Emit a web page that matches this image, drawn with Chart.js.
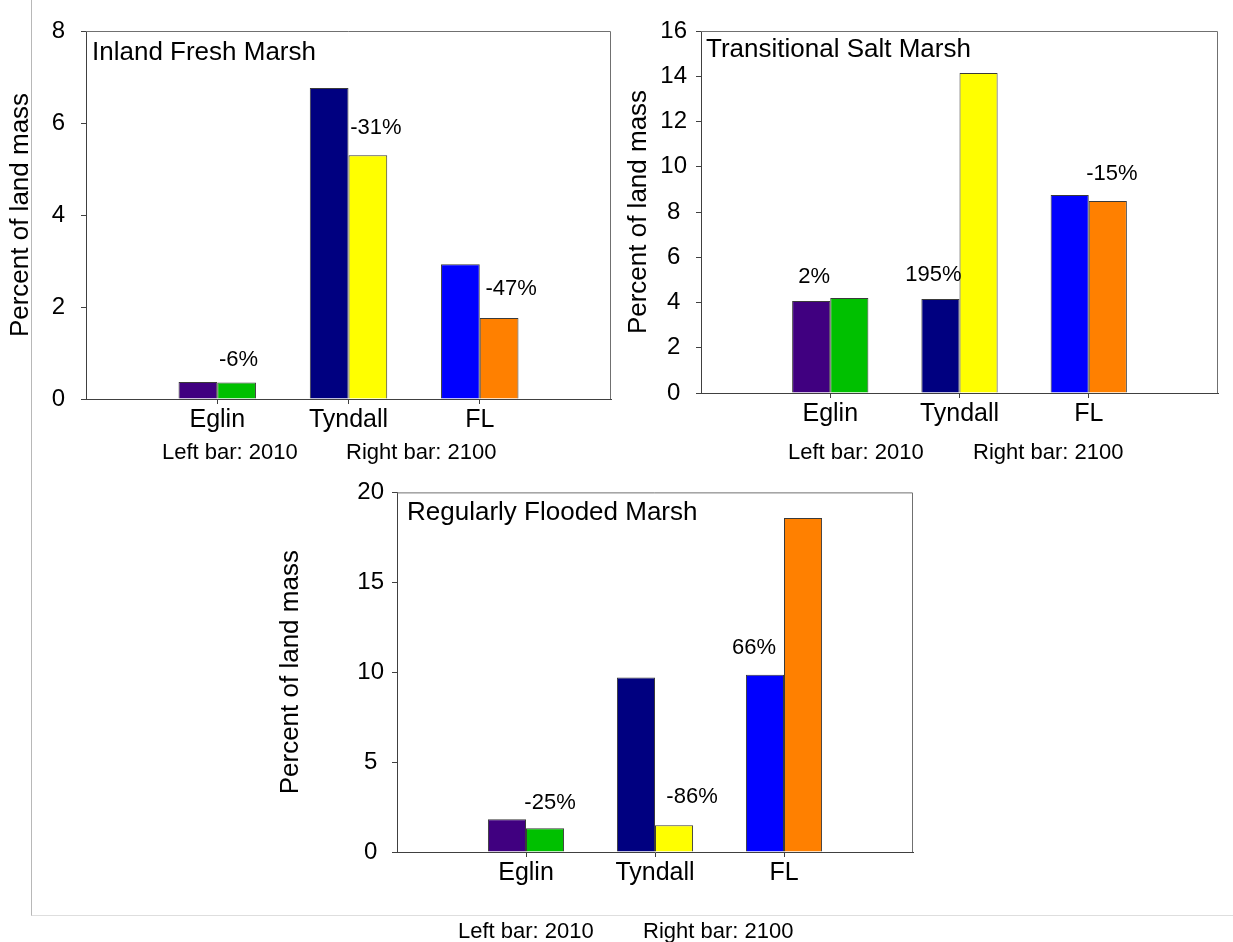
<!DOCTYPE html>
<html>
<head>
<meta charset="utf-8">
<script src="https://cdn.jsdelivr.net/npm/chart.js@4.4.1/dist/chart.umd.min.js"></script>
<style>
  body { margin: 0; background: #fff; }
  #page { position: relative; width: 1233px; height: 942px; overflow: hidden; }
  #frame {
    position: absolute; left: 31px; top: 0; width: 1202px; height: 915px;
    border-left: 1px solid #b8b8b8; border-bottom: 1px solid #dedede;
  }
  canvas { position: absolute; }
</style>
</head>
<body>
<div id="page">
  <div id="frame"></div>
  <canvas id="inlandChart" width="620" height="470" style="left:0;top:0"></canvas>
  <canvas id="transChart" width="613" height="470" style="left:620px;top:0"></canvas>
  <canvas id="floodChart" width="660" height="472" style="left:270px;top:470px"></canvas>
</div>
<script>
// values (percent of land mass)
const categories = ["Eglin", "Tyndall", "FL"];

const inland2010 = [0.37, 6.76, 2.93];
const inland2100 = [0.36, 5.30, 1.76];
const inlandTicks = [0, 2, 4, 6, 8];
const inlandChange = ["-6%", "-31%", "-47%"];

const trans2010 = [4.07, 4.15, 8.75];
const trans2100 = [4.20, 14.14, 8.49];
const transTicks = [0, 2, 4, 6, 8, 10, 12, 14, 16];
const transChange = ["2%", "195%", "-15%"];

const flood2010 = [1.82, 9.70, 9.86];
const flood2100 = [1.32, 1.49, 18.57];
const floodTicks = [0, 5, 10, 15, 20];
const floodChange = ["-25%", "-86%", "66%"];

const legendText = ["Left bar: 2010", "Right bar: 2100"];
const yTitle = "Percent of land mass";

const FONT = '"Liberation Sans", Arial, sans-serif';
const AXIS = "#404040";
const colors2010 = ["#400080", "#000080", "#0000ff"];
const colors2100 = ["#00c000", "#ffff00", "#ff8000"];

Chart.defaults.font.family = FONT;
Chart.defaults.color = "#000";

// empty slot at each end so the groups sit at 1/4, 1/2, 3/4 of the axis
const labels = ["", ...categories, ""];
const padded = arr => [null, ...arr, null];

const marshText = {
  id: "marshText",
  afterDatasetsDraw(chart, args, o) {
    const { ctx, chartArea: a } = chart;
    ctx.save();

    // top and right edges of the box
    ctx.strokeStyle = "#707070";
    ctx.lineWidth = 1;
    ctx.beginPath();
    ctx.moveTo(a.left, a.top + 0.5);
    ctx.lineTo(a.right - 0.5, a.top + 0.5);
    ctx.lineTo(a.right - 0.5, a.bottom);
    ctx.stroke();

    ctx.fillStyle = "#000";
    ctx.textBaseline = "middle";
    ctx.textAlign = "left";
    ctx.font = "26px " + FONT;
    ctx.fillText(o.title, a.left + o.titleAt[0], a.top + o.titleAt[1]);

    ctx.font = "22px " + FONT;
    legendText.forEach((t, i) => {
      ctx.fillText(t, a.left + o.legendAt[i][0], a.bottom + o.legendAt[i][1]);
    });

    ctx.textAlign = "center";
    o.changes.forEach((t, i) => {
      const [ds, dx, dy] = o.changeAt[i];
      const bar = chart.getDatasetMeta(ds).data[i + 1];
      ctx.fillText(t, bar.x + dx, bar.y + dy);
    });
    ctx.restore();
  }
};

function marshChart(id, v2010, v2100, ticks, box, text) {
  const bar = {
    categoryPercentage: 0.59,
    barPercentage: 1,
    borderWidth: 1,
    borderColor: "#3a3a3a"
  };
  return new Chart(document.getElementById(id), {
    type: "bar",
    data: {
      labels: labels,
      datasets: [
        { ...bar, data: padded(v2010), backgroundColor: padded(colors2010) },
        { ...bar, data: padded(v2100), backgroundColor: padded(colors2100) }
      ]
    },
    plugins: [marshText],
    options: {
      responsive: false,
      animation: false,
      layout: { padding: { left: 0, top: box.top, right: box.right, bottom: 0 } },
      plugins: {
        legend: { display: false },
        tooltip: { enabled: false },
        marshText: text
      },
      scales: {
        x: {
          offset: false,
          grid: {
            offset: false,
            drawOnChartArea: false,
            tickLength: 5,
            tickColor: c => (c.index === 0 || c.index === labels.length - 1) ? "rgba(0,0,0,0)" : AXIS
          },
          border: { color: AXIS },
          ticks: { font: { size: 25 }, padding: 1, maxRotation: 0, autoSkip: false },
          afterFit: s => { s.height = box.xHeight; }
        },
        y: {
          min: 0,
          max: ticks[ticks.length - 1],
          afterBuildTicks: s => { s.ticks = ticks.map(v => ({ value: v })); },
          grid: { drawOnChartArea: false, tickLength: 5, color: AXIS, tickColor: AXIS },
          border: { color: AXIS },
          ticks: { font: { size: 24 }, padding: box.tickPad, crossAlign: "center" },
          title: {
            display: true,
            text: yTitle,
            font: { size: 26 },
            padding: { top: box.titlePad, bottom: 0 }
          },
          afterFit: s => { s.width = box.yWidth; }
        }
      }
    }
  });
}

marshChart("inlandChart", inland2010, inland2100, inlandTicks,
  { yWidth: 86, xHeight: 71, top: 31, right: 9, tickPad: 16, titlePad: 5 },
  {
    title: "Inland Fresh Marsh", titleAt: [6, 22],
    legendAt: [[76, 54], [260, 54]],
    changes: inlandChange,
    changeAt: [[1, 2, -23], [1, 8, -27], [1, 12, -29]]
  });

marshChart("transChart", trans2010, trans2100, transTicks,
  { yWidth: 81, xHeight: 77, top: 31, right: 15, tickPad: 9, titlePad: 3 },
  {
    title: "Transitional Salt Marsh", titleAt: [5, 19],
    legendAt: [[87, 60], [272, 60]],
    changes: transChange,
    changeAt: [[0, 3, -24], [0, -7, -24], [1, 4, -27]]
  });

marshChart("floodChart", flood2010, flood2100, floodTicks,
  { yWidth: 127, xHeight: 90, top: 19, right: 17, tickPad: 8, titlePad: 5 },
  {
    title: "Regularly Flooded Marsh", titleAt: [10, 20],
    legendAt: [[61, 80], [246, 80]],
    changes: floodChange,
    changeAt: [[1, 5, -25], [1, 18, -28], [0, -11, -27]]
  });
</script>
</body>
</html>
